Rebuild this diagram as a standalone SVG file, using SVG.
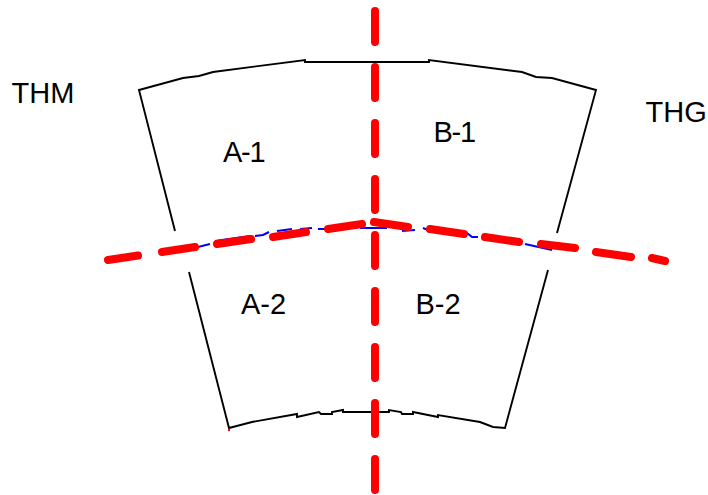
<svg xmlns="http://www.w3.org/2000/svg" width="708" height="495" viewBox="0 0 708 495">
<style>
.o{fill:none;stroke:#000;stroke-width:1.9;stroke-linejoin:miter}
.b{fill:none;stroke:#0000ff;stroke-width:2}
.r{fill:none;stroke:#ff0000;stroke-width:8;stroke-linecap:round}
text{font-family:"Liberation Sans",Arial,sans-serif;font-size:29px;fill:#000}
.n{letter-spacing:-1.3px}
</style>
<rect width="708" height="495" fill="#fff"/>
<g id="outline">
<path class="o" d="M175 231L139 90L183 78L199 76L213 72L305 60V62H429V60L522 72L536 77L552 78L596 90L557 233"/>
<path class="o" d="M189 272L229 428L252 422L297 414V417L319 412L321 414H332V412L343 410V412H389V410L401 412L402 414H413V412L438 417V415L480 422L493 427L505 428L548 270"/>
</g>
<g id="connectors">
<path class="b" d="M198 247L210 244M215 241L250 236M255 236L263 235L269 232M277 231L292 229M300 229L312 228M318 229L327 229M360 228H387M402 231L415 230M423 228L428 230M467 233L472 237H478M525 244L552 250"/>
<path class="r" d="M108 260L138 255.5M162 252L195 247M217 244L251 239M273 237L306 232M328 229L362 224M374 222L408 227M430 229L464 234M485 237L519 242M541 244L575 248M596 252L631 257M652 258L665 261"/>
<path class="r" d="M375 11V42M375 67V98M375 123V154M375 179V210M375 235V266M375 291V322M375 347V378M375 403V434M375 459V490"/>
<circle cx="229" cy="430" r="1.2" fill="#ff0000"/>
</g>
<g id="thm"><text x="11.5" y="103">THM</text></g>
<g id="thg"><text x="645.5" y="122">THG</text></g>
<g id="a1"><text class="n" x="223" y="162">A-1</text></g>
<g id="b1"><text class="n" x="433.5" y="142">B-1</text></g>
<g id="a2"><text x="241" y="314">A-2</text></g>
<g id="b2"><text x="415.5" y="314">B-2</text></g>
</svg>
